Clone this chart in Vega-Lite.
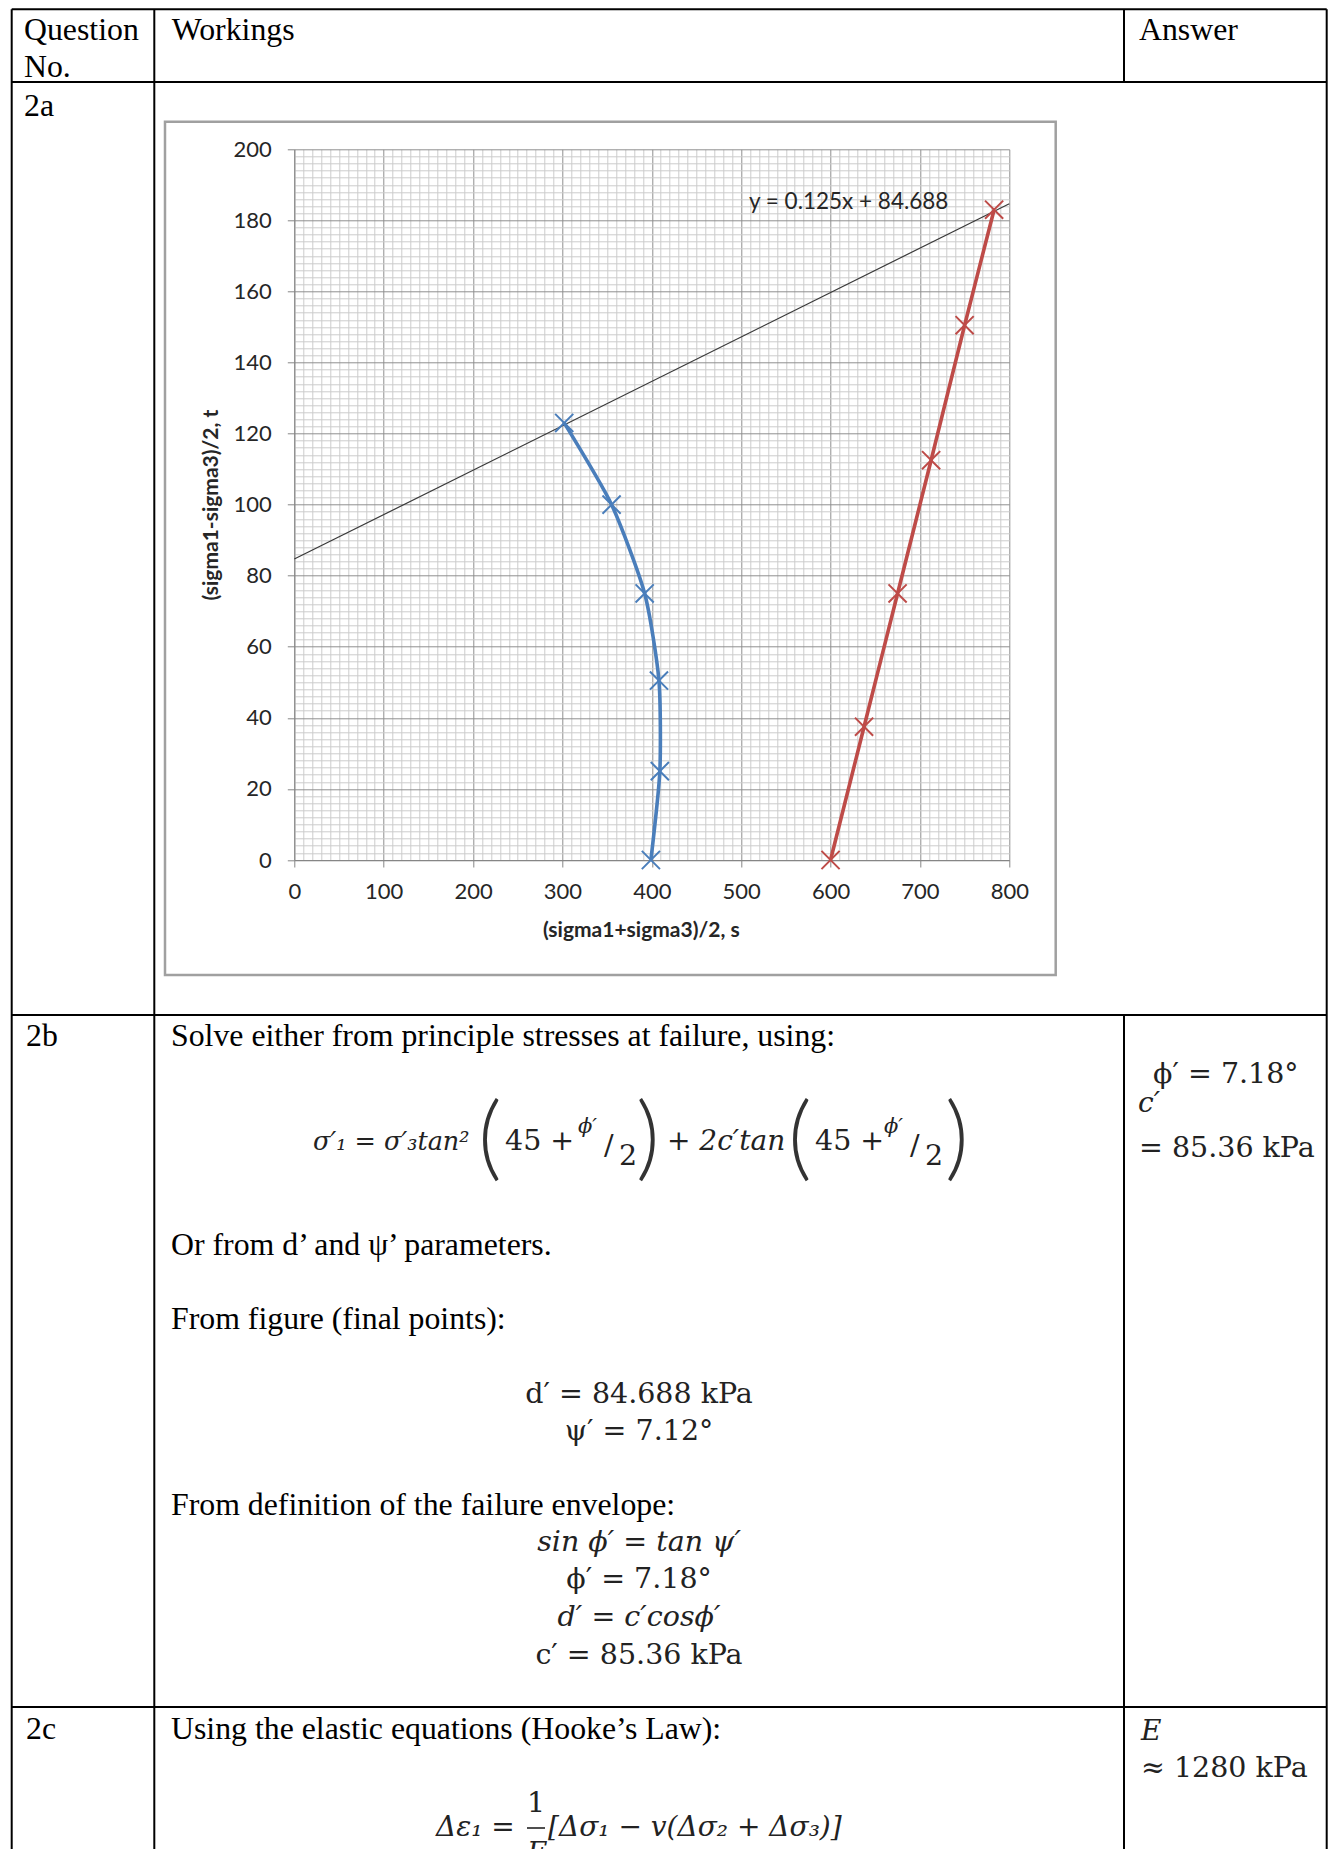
{
  "$schema": "https://vega.github.io/schema/vega-lite/v6.json",
  "width": 715,
  "height": 710.7,
  "autosize": {"type": "none"},
  "padding": {"left": 294.3, "top": 149.3, "right": 320.7, "bottom": 989},
  "background": "white",
  "config": {"view": {"stroke": null}},
  "layer": [
    {
      "layer": [
        {
          "data": {"values": [{"s": 0, "t": 84.688}, {"s": 800, "t": 184.688}]},
          "mark": {"type": "line", "color": "#3a3a3a", "strokeWidth": 1.2},
          "encoding": {
            "x": {"field": "s", "type": "quantitative",
              "scale": {"domain": [0, 800], "nice": false, "zero": false},
              "axis": {"orient": "bottom", "title": "(sigma1+sigma3)/2, s", "tickCount": 80, "grid": true,
                "gridColor": {"condition": {"test": "datum.value % 100 === 0", "value": "#8f8f8f"}, "value": "#cccccc"},
                "gridWidth": 1, "domainColor": "#868686", "domainWidth": 1,
                "tickColor": "#868686", "tickSize": 7,
                "tickOpacity": {"condition": {"test": "datum.value % 100 === 0", "value": 1}, "value": 0},
                "labelExpr": "datum.value % 100 === 0 ? datum.label : ''",
                "labelOverlap": false, "labelFlush": false,
                "labelFont": "Lato", "labelFontSize": 22, "labelColor": "#262626", "labelPadding": 14,
                "titleFont": "Lato", "titleFontWeight": "bold", "titleFontSize": 21, "titleColor": "#262626",
                "titleX": 346.5, "titleY": 70, "titleBaseline": "middle", "titleAnchor": "middle"}},
            "y": {"field": "t", "type": "quantitative",
              "scale": {"domain": [0, 200], "nice": false, "zero": false},
              "axis": {"orient": "left", "title": "(sigma1-sigma3)/2, t", "tickCount": 100, "grid": true,
                "gridColor": {"condition": {"test": "datum.value % 20 === 0", "value": "#8f8f8f"}, "value": "#cccccc"},
                "gridWidth": 1, "domainColor": "#868686", "domainWidth": 1,
                "tickColor": "#868686", "tickSize": 7,
                "tickOpacity": {"condition": {"test": "datum.value % 20 === 0", "value": 1}, "value": 0},
                "labelExpr": "datum.value % 20 === 0 ? datum.label : ''",
                "labelOverlap": false, "labelFlush": false,
                "labelFont": "Lato", "labelFontSize": 22, "labelColor": "#262626", "labelPadding": 16,
                "titleFont": "Lato", "titleFontWeight": "bold", "titleFontSize": 21, "titleColor": "#262626",
                "titleX": -82.3, "titleY": 355.35, "titleBaseline": "middle", "titleAnchor": "middle"}}
          }
        },
        {
          "data": {"name": "series", "values": [
            {"series": "A", "i": 1, "s": 399, "t": 0},
            {"series": "A", "i": 2, "s": 409, "t": 25},
            {"series": "A", "i": 3, "s": 408, "t": 50.5},
            {"series": "A", "i": 4, "s": 392, "t": 75},
            {"series": "A", "i": 5, "s": 355, "t": 100},
            {"series": "A", "i": 6, "s": 302, "t": 123},
            {"series": "B", "i": 1, "s": 600, "t": 0},
            {"series": "B", "i": 2, "s": 637.5, "t": 37.5},
            {"series": "B", "i": 3, "s": 675, "t": 75},
            {"series": "B", "i": 4, "s": 712.5, "t": 112.5},
            {"series": "B", "i": 5, "s": 750, "t": 150.5},
            {"series": "B", "i": 6, "s": 783, "t": 183}
          ]},
          "layer": [
            {
              "mark": {"type": "line", "strokeWidth": 3.6, "interpolate": "cardinal", "tension": 0.35},
              "encoding": {
                "x": {"field": "s", "type": "quantitative"},
                "y": {"field": "t", "type": "quantitative"},
                "order": {"field": "i", "type": "quantitative"},
                "color": {"field": "series", "type": "nominal", "scale": {"domain": ["A", "B"], "range": ["#4a7ebb", "#be4b48"]}, "legend": null}
              }
            },
            {
              "mark": {"type": "point", "shape": "M-1,-1L1,1M-1,1L1,-1", "size": 330, "filled": false, "strokeWidth": 2, "opacity": 1},
              "encoding": {
                "x": {"field": "s", "type": "quantitative"},
                "y": {"field": "t", "type": "quantitative"},
                "color": {"field": "series", "type": "nominal", "legend": null}
              }
            }
          ]
        },
        {
          "data": {"values": [{"s": 620.3, "t": 185.2, "label": "y = 0.125x + 84.688"}]},
          "mark": {"type": "text", "font": "Lato", "fontSize": 22.5, "color": "#262626", "align": "center", "baseline": "middle"},
          "encoding": {
            "x": {"field": "s", "type": "quantitative"},
            "y": {"field": "t", "type": "quantitative"},
            "text": {"field": "label"}
          }
        }
      ]
    },
    {
      "encoding": {
        "x": {"field": "x", "type": "quantitative", "scale": {"domain": [0, 1330], "range": [-294.3, 1035.7], "nice": false, "zero": false}, "axis": null},
        "y": {"field": "y", "type": "quantitative", "scale": {"domain": [0, 1849], "range": [-149.3, 1699.7], "nice": false, "zero": false}, "axis": null}
      },
      "layer": [
        {
          "data": {"values": [
            {"x": 11.7, "y": 9.3, "x2": 1326.7, "y2": 9.3},
            {"x": 11.7, "y": 82, "x2": 1326.7, "y2": 82},
            {"x": 11.7, "y": 1015, "x2": 1326.7, "y2": 1015},
            {"x": 11.7, "y": 1707, "x2": 1326.7, "y2": 1707},
            {"x": 11.7, "y": 9.3, "x2": 11.7, "y2": 1849},
            {"x": 154.3, "y": 9.3, "x2": 154.3, "y2": 1849},
            {"x": 1124, "y": 9.3, "x2": 1124, "y2": 82},
            {"x": 1124, "y": 1015, "x2": 1124, "y2": 1849},
            {"x": 1326.7, "y": 9.3, "x2": 1326.7, "y2": 1849}
          ]},
          "mark": {"type": "rule", "color": "black", "strokeWidth": 2},
          "encoding": {"x2": {"field": "x2"}, "y2": {"field": "y2"}}
        },
        {
          "data": {"values": [{"x": 165, "y": 121.7, "x2": 1055.7, "y2": 975}]},
          "mark": {"type": "rect", "fill": null, "stroke": "#a0a0a0", "strokeWidth": 2.5},
          "encoding": {"x2": {"field": "x2"}, "y2": {"field": "y2"}}
        },
        {
          "data": {"values": [{"x": 527, "y": 1828, "x2": 545, "y2": 1828}]},
          "mark": {"type": "rule", "color": "#222222", "strokeWidth": 1.6},
          "encoding": {"x2": {"field": "x2"}, "y2": {"field": "y2"}}
        },
        {
          "data": {"values": [
            {"x": 24, "y": 40, "t": "Question"},
            {"x": 24, "y": 76.5, "t": "No."},
            {"x": 171.7, "y": 40, "t": "Workings"},
            {"x": 1139, "y": 40, "t": "Answer"},
            {"x": 24, "y": 115.5, "t": "2a"},
            {"x": 26, "y": 1046, "t": "2b"},
            {"x": 171, "y": 1046, "t": "Solve either from principle stresses at failure, using:"},
            {"x": 171, "y": 1254.6, "t": "Or from d’ and ψ’ parameters."},
            {"x": 171, "y": 1329, "t": "From figure (final points):"},
            {"x": 171, "y": 1515, "t": "From definition of the failure envelope:"},
            {"x": 26, "y": 1739, "t": "2c"},
            {"x": 171, "y": 1739, "t": "Using the elastic equations (Hooke’s Law):"}
          ]},
          "mark": {"type": "text", "font": "Liberation Serif", "fontSize": 31.8, "color": "black", "align": "left", "baseline": "alphabetic"},
          "encoding": {"text": {"field": "t"}}
        },
        {
          "data": {"values": [
            {"x": 639, "y": 1403, "t": "d′ = 84.688 kPa"},
            {"x": 639, "y": 1440, "t": "ψ′ = 7.12°"},
            {"x": 639, "y": 1588, "t": "ϕ′ = 7.18°"},
            {"x": 639, "y": 1663.7, "t": "c′ = 85.36 kPa"}
          ]},
          "mark": {"type": "text", "font": "DejaVu Serif", "fontSize": 28.5, "color": "#222222", "align": "center", "baseline": "alphabetic"},
          "encoding": {"text": {"field": "t"}}
        },
        {
          "data": {"values": [
            {"x": 639, "y": 1550.5, "t": "sin ϕ′ = tan ψ′"},
            {"x": 639, "y": 1626, "t": "d′ = c′cosϕ′"}
          ]},
          "mark": {"type": "text", "font": "DejaVu Serif", "fontStyle": "italic", "fontSize": 28.5, "color": "#222222", "align": "center", "baseline": "alphabetic"},
          "encoding": {"text": {"field": "t"}}
        },
        {
          "data": {"values": [
            {"x": 1153, "y": 1083, "t": "ϕ′ = 7.18°"},
            {"x": 1139, "y": 1157, "t": "= 85.36 kPa"},
            {"x": 1141, "y": 1777, "t": "≈ 1280 kPa"},
            {"x": 505, "y": 1150, "t": "45 +"},
            {"x": 604, "y": 1155, "t": "/"},
            {"x": 619, "y": 1165, "t": "2"},
            {"x": 815, "y": 1150, "t": "45 +"},
            {"x": 910, "y": 1155, "t": "/"},
            {"x": 925, "y": 1165, "t": "2"},
            {"x": 527, "y": 1812, "t": "1"}
          ]},
          "mark": {"type": "text", "font": "DejaVu Serif", "fontSize": 28.5, "color": "#222222", "align": "left", "baseline": "alphabetic"},
          "encoding": {"text": {"field": "t"}}
        },
        {
          "data": {"values": [
            {"x": 1138, "y": 1112, "t": "c′"},
            {"x": 1141, "y": 1740, "t": "E"},
            {"x": 667, "y": 1150, "t": "+ 2c′tan"},
            {"x": 436, "y": 1836, "t": "Δε₁ ="},
            {"x": 548, "y": 1836, "t": "[Δσ₁ − v(Δσ₂ + Δσ₃)]"},
            {"x": 527, "y": 1862, "t": "E"}
          ]},
          "mark": {"type": "text", "font": "DejaVu Serif", "fontStyle": "italic", "fontSize": 28, "color": "#222222", "align": "left", "baseline": "alphabetic"},
          "encoding": {"text": {"field": "t"}}
        },
        {
          "data": {"values": [
            {"x": 313, "y": 1150, "t": "σ′₁ = σ′₃tan²"}
          ]},
          "mark": {"type": "text", "font": "DejaVu Serif", "fontStyle": "italic", "fontSize": 25.5, "color": "#222222", "align": "left", "baseline": "alphabetic"},
          "encoding": {"text": {"field": "t"}}
        },
        {
          "data": {"values": [
            {"x": 578, "y": 1133, "t": "ϕ′"},
            {"x": 884, "y": 1133, "t": "ϕ′"}
          ]},
          "mark": {"type": "text", "font": "DejaVu Serif", "fontStyle": "italic", "fontSize": 21, "color": "#222222", "align": "left", "baseline": "alphabetic"},
          "encoding": {"text": {"field": "t"}}
        },
        {
          "data": {"values": [
            {"x": 478, "y": 1169, "t": "("},
            {"x": 636, "y": 1169, "t": ")"},
            {"x": 788, "y": 1169, "t": "("},
            {"x": 945, "y": 1169, "t": ")"}
          ]},
          "mark": {"type": "text", "font": "Lato", "fontWeight": 300, "fontSize": 92, "color": "#333333", "align": "left", "baseline": "alphabetic"},
          "encoding": {"text": {"field": "t"}}
        }
      ]
    }
  ],
  "resolve": {"scale": {"x": "independent", "y": "independent", "color": "independent"}}
}
